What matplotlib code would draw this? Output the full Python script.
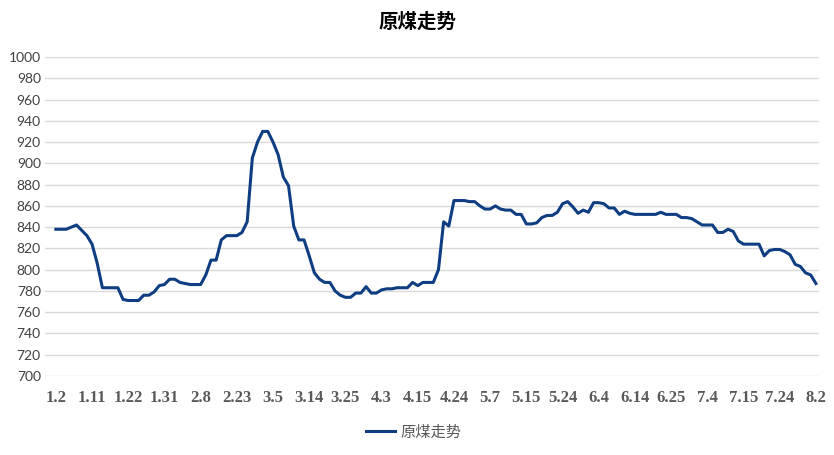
import numpy as np
import matplotlib
matplotlib.use("Agg")
import matplotlib.pyplot as plt

# 原煤价格, 每个交易日一个点 (1.2 - 8.2)
price = [838, 838, 838, 840, 842, 837, 832, 824, 806, 783,
         783, 783, 783, 772, 771, 771, 771, 776, 776, 779,
         785, 786, 791, 791, 788, 787, 786, 786, 786, 795,
         809, 809, 828, 832, 832, 832, 835, 845, 905, 920,
         930, 930, 920, 908, 887, 879, 841, 828, 828, 813,
         797, 791, 788, 788, 780, 776, 774, 774, 778, 778,
         784, 778, 778, 781, 782, 782, 783, 783, 783, 788,
         785, 788, 788, 788, 800, 845, 841, 865, 865, 865,
         864, 864, 860, 857, 857, 860, 857, 856, 856, 852,
         852, 843, 843, 844, 849, 851, 851, 854, 862, 864,
         859, 853, 856, 854, 863, 863, 862, 858, 858, 852,
         855, 853, 852, 852, 852, 852, 852, 854, 852, 852,
         852, 849, 849, 848, 845, 842, 842, 842, 835, 835,
         838, 836, 827, 824, 824, 824, 824, 813, 818, 819,
         819, 817, 814, 805, 803, 797, 795, 787]

# 横轴标签, 每7个交易日一个
tick_labels = ["1.2", "1.11", "1.22", "1.31", "2.8", "2.23", "3.5", "3.14",
               "3.25", "4.3", "4.15", "4.24", "5.7", "5.15", "5.24", "6.4",
               "6.14", "6.25", "7.4", "7.15", "7.24", "8.2"]
label_step = 7

y_ticks = list(range(700, 1001, 20))

fig = plt.figure(figsize=(8.34, 4.55), dpi=100)
ax = fig.add_axes([45 / 834, (455 - 376) / 455, (819 - 45) / 834, (376 - 57) / 455])

x = np.arange(len(price))
line, = ax.plot(x, price, color="#0f3d82", linewidth=2.2, solid_joinstyle="round")

ax.set_ylim(700, 1000)
ax.set_yticks(y_ticks)
ax.set_xlim(-2.1, len(price) - 1 + 0.6)
ax.set_xticks(x[::label_step])
ax.set_xticklabels(tick_labels, fontfamily="Liberation Serif", fontweight="bold",
                   fontsize=12, color="#595959")
for t in ax.get_yticklabels():
    t.set_fontfamily("Lato")
    t.set_fontsize(10)
    t.set_color("#404040")

ax.grid(axis="y", color="#d9d9d9", linewidth=1)
ax.set_axisbelow(True)
for s in ax.spines.values():
    s.set_visible(False)
ax.tick_params(axis="both", length=0)
ax.tick_params(axis="x", pad=10)
ax.tick_params(axis="y", pad=3)

fig.text(418 / 834, 1 - 22 / 455, "原煤走势", ha="center", va="center",
         fontfamily="Noto Sans CJK SC", fontweight="bold", fontsize=14, color="#000000")

leg = fig.legend([line], ["原煤走势"], loc="center", bbox_to_anchor=(414 / 834, 1 - 432 / 455),
                 frameon=False, prop={"family": "Noto Sans CJK SC", "size": 11},
                 handlelength=1.9, handletextpad=0.35)
for t in leg.get_texts():
    t.set_color("#595959")

fig.savefig("out.png", dpi=100)
